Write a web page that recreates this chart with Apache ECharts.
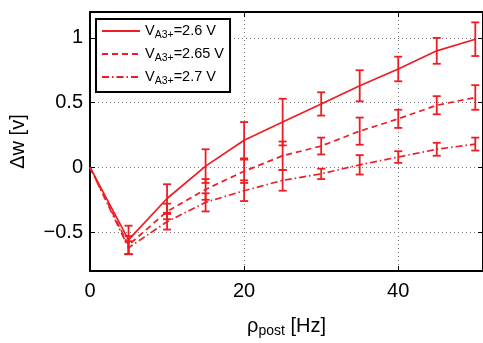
<!DOCTYPE html>
<html>
<head>
<meta charset="utf-8">
<script src="https://cdn.jsdelivr.net/npm/echarts@6/dist/echarts.min.js"></script>
<style>html,body{margin:0;padding:0;background:#fff}#c{width:483px;height:343px}</style>
</head>
<body>
<div id="c"></div>
<script>
var xs = [0, 5, 10, 15, 20, 25, 30, 35, 40, 45, 50];
var s1 = [0, -0.56, -0.24, 0.01, 0.21, 0.35, 0.49, 0.63, 0.76, 0.90, 0.99];
var e1 = [0, 0.11, 0.11, 0.13, 0.14, 0.18, 0.09, 0.12, 0.095, 0.10, 0.13];
var s2 = [0, -0.60, -0.34, -0.17, -0.03, 0.09, 0.165, 0.28, 0.375, 0.48, 0.54];
var e2 = [0, 0.07, 0.06, 0.08, 0.09, 0.11, 0.065, 0.105, 0.07, 0.07, 0.095];
var s3 = [0, -0.62, -0.42, -0.27, -0.18, -0.10, -0.05, 0.02, 0.08, 0.14, 0.18];
var e3 = [0, 0.05, 0.06, 0.07, 0.08, 0.08, 0.04, 0.075, 0.045, 0.05, 0.05];
var names = ['2.6', '2.65', '2.7'];
var yTicks = [-0.5, 0, 0.5, 1];
var xTicks = [0, 20, 40];

var RED = '#ee1d23';
var FONT = "'Liberation Sans', Arial, Helvetica, sans-serif";

function pairs(s) { return xs.map(function (x, i) { return [x, s[i]]; }); }
function triples(s, e) { return xs.map(function (x, i) { return [x, s[i], e[i]]; }); }

function errRender(params, api) {
  var x = api.value(0), y = api.value(1), e = api.value(2);
  if (!e) return null;
  var p1 = api.coord([x, y + e]);
  var p2 = api.coord([x, y - e]);
  var w = 4;
  var st = { stroke: RED, lineWidth: 1.8 };
  return {
    type: 'group',
    children: [
      { type: 'line', shape: { x1: p1[0], y1: p1[1], x2: p2[0], y2: p2[1] }, style: st },
      { type: 'line', shape: { x1: p1[0] - w, y1: p1[1], x2: p1[0] + w, y2: p1[1] }, style: st },
      { type: 'line', shape: { x1: p2[0] - w, y1: p2[1], x2: p2[0] + w, y2: p2[1] }, style: st }
    ]
  };
}

var dashTypes = ['solid', [6, 4], [7, 3, 1.5, 3]];
var sData = [s1, s2, s3];
var eData = [e1, e2, e3];
var series = [];
for (var i = 0; i < 3; i++) {
  series.push({
    name: names[i], type: 'line', data: pairs(sData[i]), symbol: 'none',
    lineStyle: { color: RED, width: 1.7, type: dashTypes[i] }, itemStyle: { color: RED },
    z: 3, animation: false
  });
  series.push({
    name: 'err' + i, type: 'custom', data: triples(sData[i], eData[i]),
    renderItem: errRender, z: 3, animation: false
  });
}

var chart = echarts.init(document.getElementById('c'));
chart.setOption({
  animation: false,
  backgroundColor: '#fff',
  grid: { left: 90, top: 12, width: 395.25, height: 260 },
  legend: {
    data: names, orient: 'vertical', left: 96, top: 19,
    backgroundColor: '#fff', borderColor: '#000', borderWidth: 2, borderRadius: 0,
    padding: [4, 6, 5, 5], itemGap: 5, itemWidth: 38, itemHeight: 12, itemTextGap: 3,
    itemStyle: { opacity: 0 },
    z: 10,
    formatter: function (n) { return '{v|V}{s|A3+}{v|=' + n + ' V}'; },
    textStyle: {
      fontFamily: FONT, color: '#000',
      rich: {
        v: { fontSize: 14.5, fontFamily: FONT, color: '#000', lineHeight: 20, verticalAlign: 'middle' },
        s: { fontSize: 10.5, fontFamily: FONT, color: '#000', lineHeight: 20, verticalAlign: 'bottom', padding: [7, 0, 0, 0] }
      }
    }
  },
  xAxis: [{
    type: 'value', min: 0, max: 51,
    axisLine: { show: true, onZero: false, lineStyle: { color: '#000', width: 2 } },
    axisTick: { show: true, inside: true, length: 5, customValues: xTicks, lineStyle: { color: '#000', width: 1 } },
    axisLabel: { fontSize: 20, fontFamily: FONT, color: '#000', margin: 10, customValues: xTicks },
    splitLine: { show: true, lineStyle: { color: '#777', width: 1, type: [1, 3] } },
    name: '{r|ρ}{s|post}{r| [Hz]}', nameLocation: 'middle', nameGap: 43,
    nameTextStyle: {
      rich: {
        r: { fontSize: 20, fontFamily: FONT, color: '#000', lineHeight: 24, verticalAlign: 'middle' },
        s: { fontSize: 14, fontFamily: FONT, color: '#000', lineHeight: 24, verticalAlign: 'bottom', padding: [10, 0, 0, 0] }
      }
    }
  }, {
    type: 'value', min: 0, max: 51, position: 'top',
    axisLine: { show: true, onZero: false, lineStyle: { color: '#000', width: 2 } },
    axisTick: { show: true, inside: true, length: 5, customValues: xTicks, lineStyle: { color: '#000', width: 1 } },
    axisLabel: { show: false, customValues: xTicks }, splitLine: { show: false }
  }],
  yAxis: [{
    type: 'value', min: -0.8, max: 1.2,
    axisLine: { show: true, onZero: false, lineStyle: { color: '#000', width: 2 } },
    axisTick: { show: true, inside: true, length: 5, customValues: yTicks, lineStyle: { color: '#000', width: 1 } },
    axisLabel: {
      fontSize: 20, fontFamily: FONT, color: '#000', margin: 7, customValues: yTicks,
      formatter: function (v) { return String(v).replace('-', '\u2212'); }
    },
    splitLine: { show: true, lineStyle: { color: '#777', width: 1, type: [1, 3] } },
    name: 'Δw [v]', nameLocation: 'middle', nameGap: 62, nameRotate: 90,
    nameTextStyle: { fontSize: 20, fontFamily: FONT, color: '#000' }
  }, {
    type: 'value', min: -0.8, max: 1.2, position: 'right',
    axisLine: { show: true, onZero: false, lineStyle: { color: '#000', width: 2 } },
    axisTick: { show: true, inside: true, length: 5, customValues: yTicks, lineStyle: { color: '#000', width: 1 } },
    axisLabel: { show: false, customValues: yTicks }, splitLine: { show: false }
  }],
  series: series
});
</script>
</body>
</html>
